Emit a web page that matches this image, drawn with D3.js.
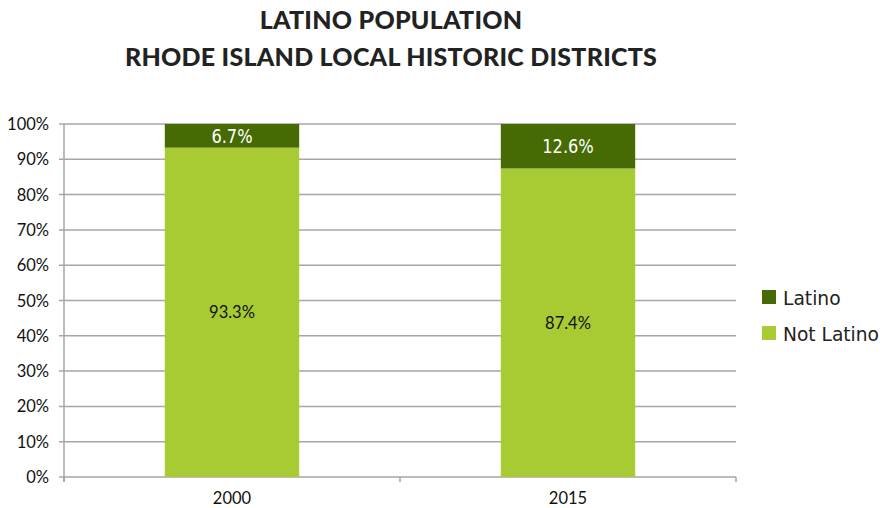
<!DOCTYPE html>
<html><head><meta charset="utf-8">
<script src="https://cdn.jsdelivr.net/npm/d3@7"></script>
<style>
body{margin:0;background:#fff;}
svg{display:block;}
</style></head>
<body><svg id="chart" width="880" height="508"></svg>
<script>
const categories = ["2000", "2015"];
const seriesNames = ["Not Latino", "Latino"];
const notLatino = [93.3, 87.4];
const latino = [6.7, 12.6];
const yTicks = [0,10,20,30,40,50,60,70,80,90,100];
const titleLines = ["LATINO POPULATION", "RHODE ISLAND LOCAL HISTORIC DISTRICTS"];
const colors = {"Latino": "#466b04", "Not Latino": "#a8cb34"};

const svg = d3.select("#chart");
const m = {left: 64, right: 144, top: 124, bottom: 31};
const W = 880, H = 508;
const x = d3.scaleBand().domain(categories).range([m.left, W - m.right]).paddingInner(0.6).paddingOuter(0.3);
const y = d3.scaleLinear().domain([0, 100]).range([H - m.bottom, m.top]);

const condensed = "'DejaVu Sans Condensed', 'Liberation Sans Narrow', sans-serif";

// title
svg.selectAll("text.title").data(titleLines).enter().append("text")
  .attr("class","title")
  .attr("x", 391).attr("y", (d,i)=> 29 + i*37)
  .attr("text-anchor","middle")
  .attr("font-family","Lato, 'Open Sans', sans-serif")
  .attr("font-weight","900")
  .attr("font-size", 25)
  .attr("letter-spacing", 0.25)
  .attr("fill","#222")
  .text(d=>d);

// gridlines
svg.append("g").selectAll("line").data(yTicks).enter().append("line")
  .attr("x1", m.left - 5).attr("x2", W - m.right)
  .attr("y1", d=>y(d)).attr("y2", d=>y(d))
  .attr("stroke","#a6a6a6").attr("stroke-width",1.5);

// y axis line
svg.append("line").attr("x1",m.left).attr("x2",m.left).attr("y1",y(100)).attr("y2",y(0)+5)
  .attr("stroke","#a6a6a6").attr("stroke-width",1.5);

// x axis ticks at edges and between categories
const xBounds = [m.left, (x("2000")+x.bandwidth()/2 + x("2015")+x.bandwidth()/2)/2, W - m.right];
svg.append("g").selectAll("line").data(xBounds).enter().append("line")
  .attr("x1",d=>d).attr("x2",d=>d).attr("y1",y(0)).attr("y2",y(0)+5)
  .attr("stroke","#a6a6a6").attr("stroke-width",1.5);

// y tick labels
svg.append("g").selectAll("text").data(yTicks).enter().append("text")
  .attr("x", 49).attr("y", d=>y(d)+6)
  .attr("text-anchor","end")
  .attr("font-family","Lato, 'Open Sans', sans-serif").attr("font-size",16.5).attr("fill","#111")
  .text(d=>d+"%");

// x labels
svg.append("g").selectAll("text").data(categories).enter().append("text")
  .attr("x", d=>x(d)+x.bandwidth()/2).attr("y", 504)
  .attr("text-anchor","middle")
  .attr("font-family","Lato, 'Open Sans', sans-serif").attr("font-size",16.5).attr("fill","#111")
  .text(d=>d);

// stacked data
const rows = categories.map((c,i)=>({cat:c, "Not Latino": notLatino[i], "Latino": latino[i]}));
const stack = d3.stack().keys(seriesNames)(rows);

const g = svg.append("g");
stack.forEach(layer=>{
  g.selectAll(null).data(layer).enter().append("rect")
    .attr("x", d=>x(d.data.cat)).attr("width", x.bandwidth())
    .attr("y", d=>y(d[1])).attr("height", d=>y(d[0])-y(d[1]))
    .attr("fill", colors[layer.key]);
});

// labels
stack.forEach(layer=>{
  const isLat = layer.key === "Latino";
  const t = g.selectAll(null).data(layer).enter().append("text")
    .attr("x", d=>x(d.data.cat)+x.bandwidth()/2)
    .attr("y", d=>(y(d[0])+y(d[1]))/2 + (isLat ? 7 : 6))
    .attr("text-anchor","middle")
    .attr("font-family", isLat ? condensed : "Lato, 'Open Sans', sans-serif")
    .attr("font-size", isLat ? 19 : 16.5)
    .attr("fill", isLat ? "#ffffff" : "#111")
    .text(d=>(d[1]-d[0]).toFixed(1)+"%");
  if (isLat) {
    t.attr("textLength", d=>{ const s=(d[1]-d[0]).toFixed(1)+"%"; return s.length*10.3; })
     .attr("lengthAdjust","spacingAndGlyphs");
  }
});

// legend
const legendItems = ["Latino","Not Latino"];
const lg = svg.append("g");
legendItems.forEach((k,i)=>{
  lg.append("rect").attr("x",762).attr("y",290 + i*36).attr("width",14).attr("height",14).attr("fill",colors[k]);
  lg.append("text").attr("x",783).attr("y",305 + i*36)
    .attr("font-family",condensed)
    .attr("font-size",20).attr("fill","#222")
    .attr("textLength", k.length*9.6).attr("lengthAdjust","spacingAndGlyphs")
    .text(k);
});
</script></body></html>
